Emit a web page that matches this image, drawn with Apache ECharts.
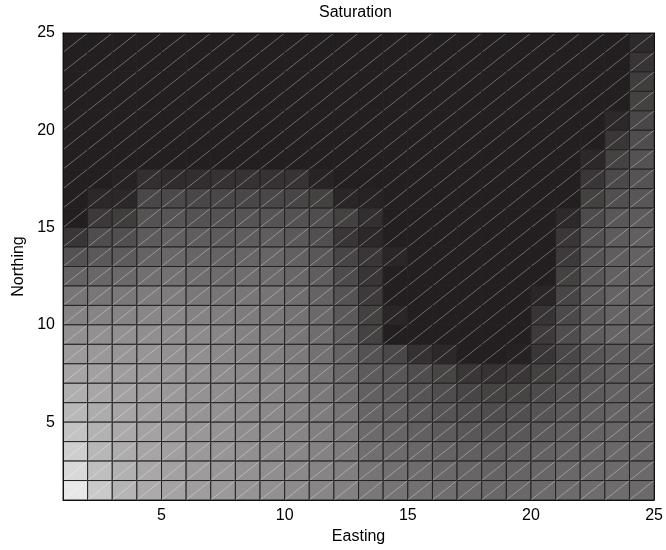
<!DOCTYPE html>
<html><head><meta charset="utf-8">
<script src="https://cdn.jsdelivr.net/npm/echarts@6/dist/echarts.min.js"></script>
<style>html,body{margin:0;padding:0;background:#fff}#c{width:666px;height:550px}</style>
</head><body><div id="c"></div>
<script>
// Cell lower-left corners
const eastings = [1,2,3,4,5,6,7,8,9,10,11,12,13,14,15,16,17,18,19,20,21,22,23,24];
const northings = [24,23,22,21,20,19,18,17,16,15,14,13,12,11,10,9,8,7,6,5,4,3,2,1];
const D = 35; // darkest level
// Saturation (grey level) per row, top row (Northing 24) first, Easting 1..24
const row24 = [D,D,D,D,D,D,D,D,D,D,D,D,D,D,D,D,D,D,D,D,D,D,D,46];
const row23 = [D,D,D,D,D,D,D,D,D,D,D,D,D,D,D,D,D,D,D,D,D,D,D,56];
const row22 = [D,D,D,D,D,D,D,D,D,D,D,D,D,D,D,D,D,D,D,D,D,D,D,64];
const row21 = [D,D,D,D,D,D,D,D,D,D,D,D,D,D,D,D,D,D,D,D,D,D,D,68];
const row20 = [D,D,D,D,D,D,D,D,D,D,D,D,D,D,D,D,D,D,D,D,D,D,44,74];
const row19 = [D,D,D,D,D,D,D,D,D,D,D,D,D,D,D,D,D,D,D,D,D,D,58,80];
const row18 = [D,D,D,D,D,D,D,D,D,D,D,D,D,D,D,D,D,D,D,D,D,44,69,85];
const row17 = [D,D,38,51,48,50,54,54,54,55,40,D,D,D,D,D,D,D,D,D,D,58,76,86];
const row16 = [D,44,44,74,76,74,74,74,74,72,68,42,39,D,D,D,D,D,D,D,D,68,82,89];
const row15 = [D,61,64,85,88,85,85,87,87,85,80,68,51,D,D,D,D,D,D,D,45,78,90,94];
const row14 = [58,80,82,94,98,96,94,96,96,92,82,58,44,D,D,D,D,D,D,D,58,84,94,98];
const row13 = [85,92,94,102,106,104,102,104,104,99,90,72,58,42,D,D,D,D,D,D,62,87,96,100];
const row12 = [102,106,108,114,116,112,110,112,110,105,96,78,57,D,D,D,D,D,D,D,68,90,99,102];
const row11 = [119,120,122,126,126,122,119,120,118,112,102,86,62,D,D,D,D,D,D,42,72,92,102,104];
const row10 = [133,134,135,136,136,132,128,126,122,117,108,92,68,42,D,D,D,D,D,56,76,94,102,104];
const row9  = [146,146,146,144,142,140,135,131,126,120,112,96,69,D,D,D,D,D,D,62,80,96,103,104];
const row8  = [156,154,152,150,147,144,138,134,130,124,116,102,85,74,53,44,D,D,38,58,74,88,95,97];
const row7  = [166,162,158,154,151,146,142,138,134,127,119,107,94,89,80,71,58,54,58,68,78,90,96,98];
const row6  = [176,168,163,158,154,148,144,140,136,130,122,112,99,94,87,80,72,69,71,78,86,94,99,100];
const row5  = [185,173,167,161,156,150,147,142,138,132,126,118,104,99,93,87,82,80,82,87,92,98,102,102];
const row4  = [196,179,171,164,159,153,149,144,140,135,129,122,109,104,99,94,90,88,90,94,98,102,104,104];
const row3  = [207,184,174,166,161,155,151,146,142,137,132,126,114,110,106,102,98,96,98,100,103,106,107,106];
const row2  = [218,192,178,169,163,157,153,148,144,139,134,129,118,114,111,107,104,102,103,105,107,109,109,108];
const row1  = [232,202,182,172,165,159,155,150,146,141,136,131,121,118,115,112,108,106,107,109,110,111,111,109];
const saturationRows = [row24,row23,row22,row21,row20,row19,row18,row17,row16,row15,row14,row13,row12,row11,row10,row9,row8,row7,row6,row5,row4,row3,row2,row1];
const xTickLabels = [5,10,15,20,25];
const yTickLabels = [5,10,15,20,25];

const data = [];
saturationRows.forEach((row, i) => {
  row.forEach((v, j) => { data.push([eastings[j], northings[i], v]); });
});

const FONT = 'Liberation Sans, Arial, Helvetica, sans-serif';
const chart = echarts.init(document.getElementById('c'), null, {renderer: 'canvas'});
const labelStyle = {color: '#000', fontFamily: FONT, fontSize: 16};
chart.setOption({
  backgroundColor: '#fff',
  animation: false,
  grid: {left: 63, right: 11, top: 33, bottom: 50},
  graphic: [{
    type: 'text', left: 359 - 40, top: 5, z: 10,
    style: {text: 'Saturation', font: '16px ' + FONT, fill: '#000', textAlign: 'left'}
  }],
  visualMap: {
    type: 'continuous', show: false, dimension: 2, min: 35, max: 255,
    inRange: {color: ['#231f20', '#ffffff']}
  },
  xAxis: [{
    type: 'value', min: 1, max: 25, position: 'bottom', z: 10,
    name: 'Easting', nameLocation: 'middle', nameGap: 28,
    nameTextStyle: labelStyle,
    axisLine: {show: true, lineStyle: {color: '#111', width: 1}},
    axisTick: {show: false},
    splitLine: {show: false},
    axisLabel: Object.assign({customValues: xTickLabels, margin: 8}, labelStyle)
  }, {
    type: 'value', min: 1, max: 25, position: 'top', z: 10,
    axisLine: {show: true, onZero: false, lineStyle: {color: '#111', width: 1}},
    axisTick: {show: false}, axisLabel: {show: false}, splitLine: {show: false}
  }],
  yAxis: [{
    type: 'value', min: 1, max: 25, position: 'left', z: 10,
    name: 'Northing', nameLocation: 'middle', nameGap: 36,
    nameTextStyle: labelStyle,
    axisLine: {show: true, onZero: false, lineStyle: {color: '#111', width: 1}},
    axisTick: {show: false},
    splitLine: {show: false},
    axisLabel: Object.assign({customValues: yTickLabels, margin: 8}, labelStyle)
  }, {
    type: 'value', min: 1, max: 25, position: 'right', z: 10,
    axisLine: {show: true, onZero: false, lineStyle: {color: '#111', width: 1}},
    axisTick: {show: false}, axisLabel: {show: false}, splitLine: {show: false}
  }],
  series: [{
    type: 'custom',
    xAxisIndex: 0, yAxisIndex: 0,
    encode: {x: 0, y: 1},
    data: data,
    renderItem: function (params, api) {
      const x = api.value(0), y = api.value(1);
      const p0 = api.coord([x, y]);
      const p1 = api.coord([x + 1, y + 1]);
      const color = api.visual('color');
      return {
        type: 'group',
        children: [{
          type: 'rect',
          shape: {x: p0[0], y: p1[1], width: p1[0] - p0[0], height: p0[1] - p1[1]},
          style: {fill: color, stroke: '#252122', lineWidth: 1}
        }, {
          type: 'line',
          shape: {x1: p0[0], y1: p0[1], x2: p1[0], y2: p1[1]},
          style: {stroke: 'rgba(255,255,255,0.42)', lineWidth: 0.8}
        }]
      };
    }
  }]
});
</script>
</body></html>
